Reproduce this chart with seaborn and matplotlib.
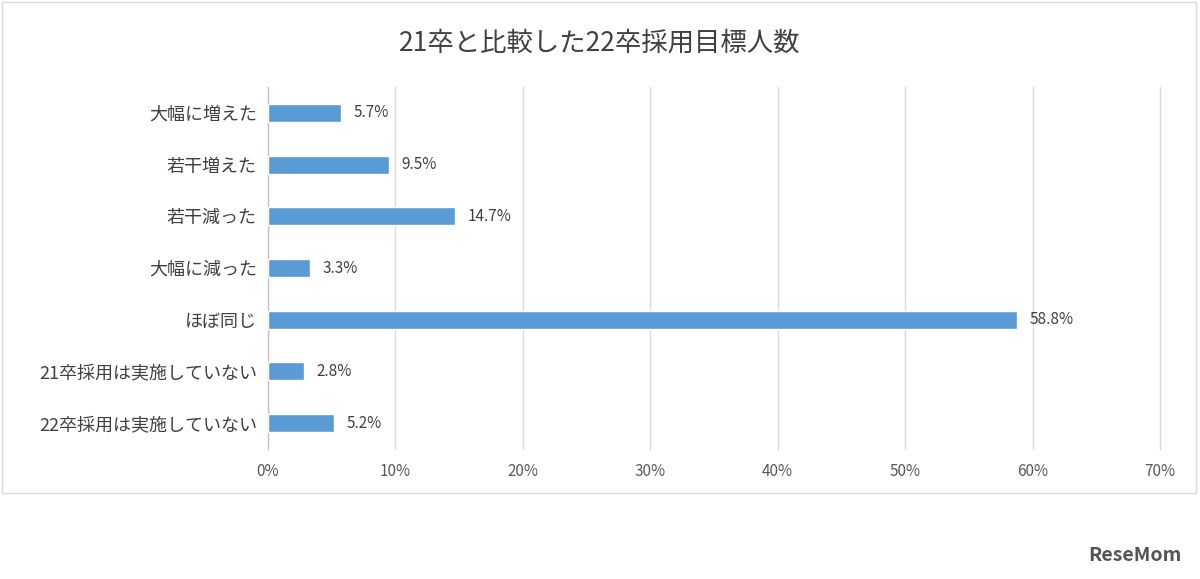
import matplotlib
matplotlib.use("Agg")
import matplotlib.pyplot as plt
import seaborn as sns
import pandas as pd
from matplotlib.patches import Rectangle

categories = ["大幅に増えた", "若干増えた", "若干減った", "大幅に減った", "ほぼ同じ", "21卒採用は実施していない", "22卒採用は実施していない"]
values = [5.7, 9.5, 14.7, 3.3, 58.8, 2.8, 5.2]
ticks = [0, 10, 20, 30, 40, 50, 60, 70]

sns.set_style("white")
plt.rcParams['font.family'] = ['Noto Sans CJK JP', 'DejaVu Sans']

fig = plt.figure(figsize=(12, 5.79), dpi=100)
ax = fig.add_axes([0.2233, 0.2245, 0.7434, 0.6252])
df = pd.DataFrame({"cat": categories, "val": values})
sns.barplot(data=df, x="val", y="cat", color="#5B9BD5", saturation=1, width=0.35, ax=ax, zorder=3)
ax.set_xlim(0, 70)
ax.set_xticks(ticks)
ax.set_xticklabels([f"{t}%" for t in ticks], fontsize=11, color="#595959")
ax.tick_params(axis="y", labelsize=13, colors="#404040", length=0, pad=8)
ax.tick_params(axis="x", length=0, pad=10)
ax.set_xlabel(""); ax.set_ylabel("")
ax.grid(axis="x", color="#D9D9D9", linewidth=1, zorder=0)
for gl in ax.get_xgridlines():
    gl.set_clip_on(False)
for s in ["top", "right", "bottom"]:
    ax.spines[s].set_visible(False)
ax.spines["left"].set_color("#BFBFBF")
for i, v in enumerate(values):
    ax.text(v + 1, i, f"{v}%", va="center", ha="left", fontsize=11, color="#404040")
fig.text(0.5, 0.925, "21卒と比較した22卒採用目標人数", ha="center", va="center", fontsize=19, color="#404040")
fig.patches.append(Rectangle((0.002, 0.149), 0.995, 0.847, transform=fig.transFigure, fill=False, edgecolor="#D9D9D9", linewidth=1))
fig.text(0.985, 0.04, "ReseMom", ha="right", va="center", fontsize=14, fontweight="bold", color="#555555")
fig.savefig("out.png", dpi=100)
